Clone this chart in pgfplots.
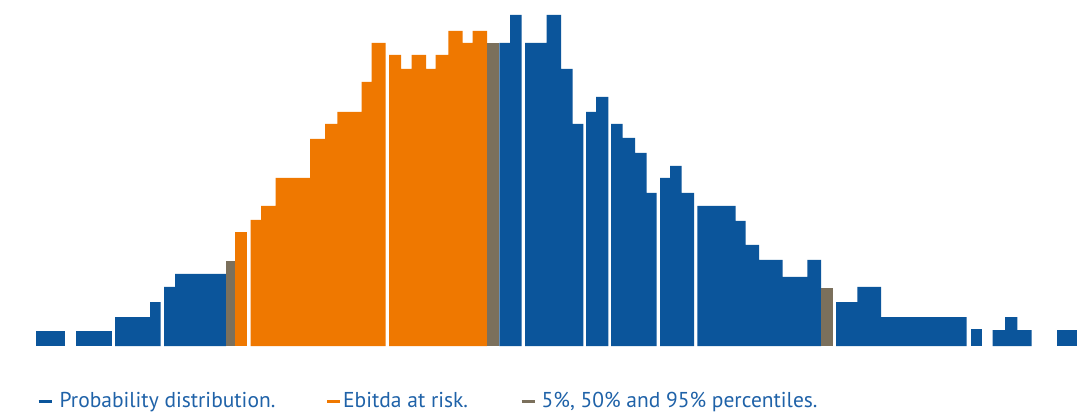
\documentclass[border=0pt]{standalone}
\usepackage{pgfplots}
\pgfplotsset{compat=1.18}
\usepackage{fontspec}
\setmainfont{PT Sans}
\definecolor{distblue}{HTML}{0B559B}
\definecolor{riskorange}{HTML}{EF7800}
\definecolor{pctgray}{HTML}{7B705C}
\definecolor{legtext}{HTML}{1F62A8}
\pgfplotsset{
    bin/.style={ybar interval, fill=#1, draw=none, forget plot},
    dash/.style n args={2}{legend image code/.code={
        \draw[#1, line width=3bp] (0bp,0bp) -- (13bp,0bp);
        \path[draw=none] (0bp,0bp) -- (#2,0bp);}},
}
\begin{document}
\begin{tikzpicture}
\begin{axis}[
    scale only axis, width=1077bp, height=412bp,
    xmin=0, xmax=1077, ymin=-66, ymax=346,
    hide axis, clip=false,
    legend columns=3, legend cell align=left,
    legend style={at={(axis cs:37,-55)}, anchor=west, draw=none, fill=none,
        inner sep=0pt, nodes={inner sep=0pt}, text=legtext,
        font=\fontsize{21.5bp}{25bp}\selectfont},
]
\path (axis cs:0,-66) rectangle (axis cs:1077,346);
% left tail
\addplot[bin=distblue] coordinates {(36,15) (65,0)};
\addplot[bin=distblue] coordinates {(75.7,15) (111.7,0)};
\addplot[bin=distblue] coordinates {(115,29) (150,44) (160.7,0)};
\addplot[bin=distblue] coordinates {(164,59) (175,72) (226,0)};
% 5% percentile
\addplot[bin=pctgray] coordinates {(226,85) (235,0)};
% ebitda at risk
\addplot[bin=riskorange] coordinates {(235,114) (247.3,0)};
\addplot[bin=riskorange] coordinates {
    (250.7,126) (261,140) (275.7,168) (310,207) (325,222) (337.3,234)
    (361.7,264) (371.7,303) (385.7,0)};
\addplot[bin=riskorange] coordinates {
    (389,291) (401,277) (411.7,291) (426,277) (435.7,291) (448.3,315)
    (462.7,303) (472.7,315) (487,0)};
% 50% percentile
\addplot[bin=pctgray] coordinates {(487,303) (499.3,0)};
% centre and right
\addplot[bin=distblue] coordinates {(499.3,303) (510,331) (521.7,0)};
\addplot[bin=distblue] coordinates {
    (525,303) (546.7,331) (561,277) (572.7,222) (583.3,0)};
\addplot[bin=distblue] coordinates {(586,234) (596,249) (608.3,0)};
\addplot[bin=distblue] coordinates {
    (611,222) (622.7,208) (635,193) (646.7,153) (656.7,0)};
\addplot[bin=distblue] coordinates {(660,168) (670,180) (681.7,153) (694,0)};
\addplot[bin=distblue] coordinates {
    (697.3,140) (735.7,125) (745.7,101) (759,86) (782.7,69) (807.3,86)
    (821,0)};
% 95% percentile
\addplot[bin=pctgray] coordinates {(821,58) (832.5,0)};
% right tail
\addplot[bin=distblue] coordinates {(836,44) (857.3,59) (881,29) (966.7,0)};
\addplot[bin=distblue] coordinates {(971,17) (982.3,0)};
\addplot[bin=distblue] coordinates {(992.7,16) (1005,29) (1017.3,16) (1031.7,0)};
\addplot[bin=distblue] coordinates {(1057.3,16) (1077,0)};

\addlegendimage{dash={distblue}{21bp}}
\addlegendentry{\makebox[266bp][l]{Probability distribution.}}
\addlegendimage{dash={riskorange}{16bp}}
\addlegendentry{\makebox[177bp][l]{Ebitda at risk.}}
\addlegendimage{dash={pctgray}{20bp}}
\addlegendentry{5\%, 50\% and 95\% percentiles.}
\end{axis}
\end{tikzpicture}
\end{document}
